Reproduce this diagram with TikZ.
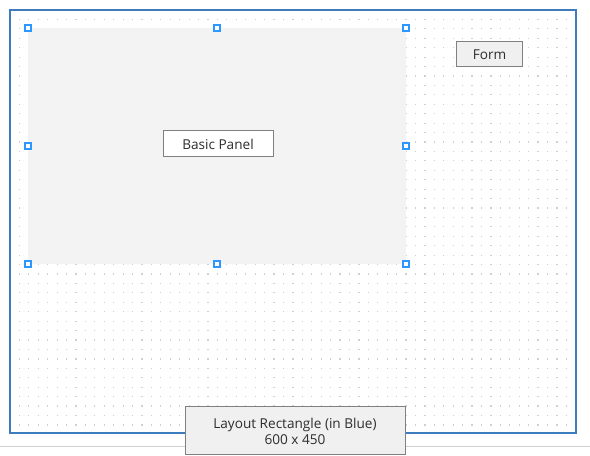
\documentclass[tikz,border=0pt]{standalone}
\usepackage{fontspec}
\setmainfont{Open Sans}

\definecolor{layoutblue}{RGB}{62,124,192}
\definecolor{handleblue}{RGB}{45,150,255}
\definecolor{panelgrey}{RGB}{243,243,243}
\definecolor{labelfill}{RGB}{240,240,240}
\definecolor{labeledge}{RGB}{128,128,128}
\definecolor{dotgrey}{RGB}{208,208,208}
\definecolor{textgrey}{RGB}{45,45,45}

\tikzset{every picture/.style={line width=0.75pt}}
\tikzset{
  handle/.style={draw=handleblue,fill=white,line width=1pt,minimum size=4.6pt,inner sep=0pt},
  tag/.style={draw=labeledge,fill=labelfill,text=textgrey,inner sep=0pt,align=center,
    font=\fontsize{10.2}{12}\selectfont}
}

\begin{document}
\begin{tikzpicture}[x=0.75pt,y=0.75pt,yscale=-1,xscale=1]
\useasboundingbox (0,0) rectangle (590,456);

%Straight Lines [id:baseline]
\draw [color=dotgrey] (0,447) -- (590,447) ;

%Dot grid
\foreach \i in {1,...,59}{
  \foreach \j in {1,...,44}{
    \fill [dotgrey] ({10+\i*9.43-0.6},{10+\j*9.43-0.6}) rectangle ++(1.2,1.2) ;
  }
}

%Shape: Rectangle [id:panel]
\fill [panelgrey] (28,28) rectangle (406,264) ;

%Shape: Rectangle [id:layout]
\draw [color=layoutblue,line width=1.4pt] (10,10) rectangle (576,433) ;

%Handles
\foreach \hx in {28,217,406}{
  \foreach \hy in {28,146,264}{
    \ifnum\hx=217 \ifnum\hy=146 \else
      \node [handle] at (\hx,\hy) {};
    \fi \else
      \node [handle] at (\hx,\hy) {};
    \fi
  }
}

% Text Node
\node [tag,fill=white,minimum width=82.5pt,minimum height=19.5pt] (basic) at (218,144) {Basic Panel};
% Text Node
\node [tag,minimum width=50pt,minimum height=18.75pt] (form) at (489.5,54.5) {Form};
% Text Node
\node [tag,minimum width=165pt,minimum height=36pt] (layout) at (295,431) {Layout Rectangle (in Blue)\\600 x 450};

\end{tikzpicture}
\end{document}
